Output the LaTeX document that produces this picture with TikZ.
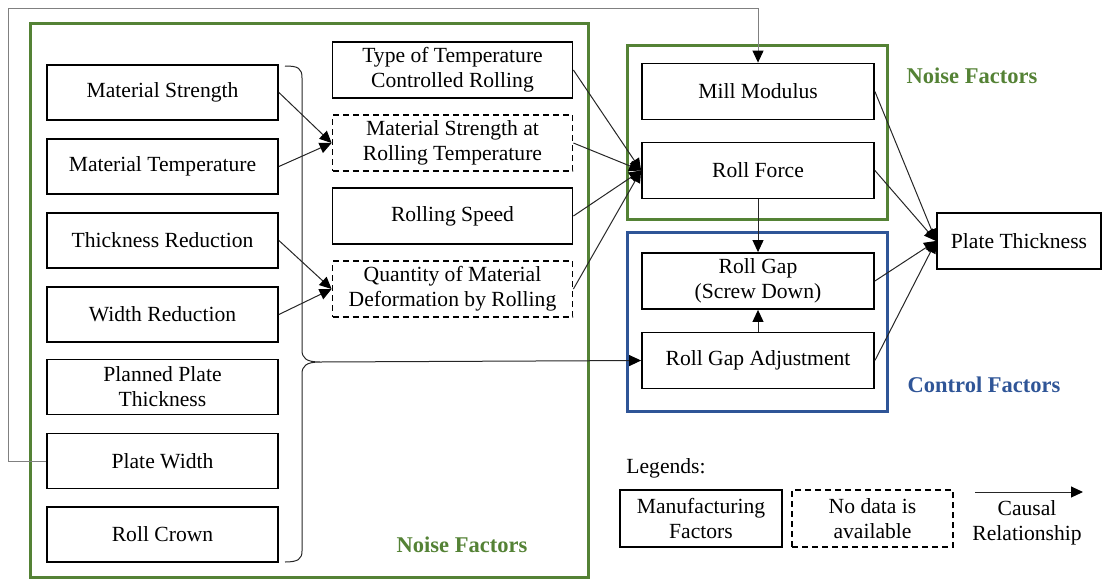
\documentclass[tikz,border=0pt]{standalone}
\usepackage{fontspec}
\setmainfont{Liberation Serif}
\usetikzlibrary{arrows.meta}
\definecolor{ngreen}{RGB}{84,130,53}
\definecolor{cblue}{RGB}{47,85,151}
\definecolor{wiregray}{RGB}{128,128,128}
\tikzset{
  fbox/.style={draw=black, line width=1.8pt, minimum height=55pt, align=center, inner sep=2pt,
    font=\fontsize{21.6}{25}\selectfont},
  lbox/.style={fbox, minimum width=231pt},
  mbox/.style={fbox, minimum width=240pt, minimum height=56pt},
  rbox/.style={fbox, minimum width=232pt, minimum height=56pt},
  nodata/.style={dash pattern=on 6pt off 4pt},
  cause/.style={draw=black!85, line width=1pt, -{Triangle[length=12pt,width=11pt,color=black]}},
  grp/.style={line width=3pt},
  grplabel/.style={font=\bfseries\fontsize{22.5}{26}\selectfont},
}
\begin{document}
\begin{tikzpicture}[x=1pt,y=-1pt]
\useasboundingbox (0,0) rectangle (1102,579);
% group frames
\draw[grp, ngreen] (30,23) rectangle (588,577);
\draw[grp, ngreen] (627,45) rectangle (887,219);
\draw[grp, cblue] (627,232) rectangle (887,411);
% left column
\node[lbox] (ms) at (162.5,92.5) {Material Strength};
\node[lbox] (mt) at (162.5,166.5) {Material Temperature};
\node[lbox] (tr) at (162.5,240.5) {Thickness Reduction};
\node[lbox] (wr) at (162.5,314.5) {Width Reduction};
\node[lbox] (ppt) at (162.5,387) {Planned Plate\\Thickness};
\node[lbox] (pw) at (162.5,461) {Plate Width};
\node[lbox] (rc) at (162.5,534.5) {Roll Crown};
% middle column
\node[mbox] (ttcr) at (452.5,70) {Type of Temperature\\Controlled Rolling};
\node[mbox, nodata] (msrt) at (452.5,143) {Material Strength at\\Rolling Temperature};
\node[mbox] (rs) at (452.5,216) {Rolling Speed};
\node[mbox, nodata] (qmd) at (452.5,289) {Quantity of Material\\Deformation by Rolling};
% right column
\node[rbox] (mm) at (758,91.5) {Mill Modulus};
\node[rbox] (rf) at (758,170.5) {Roll Force};
\node[rbox] (rg) at (758,281) {Roll Gap\\(Screw Down)};
\node[rbox] (rga) at (758,360.5) {Roll Gap Adjustment};
\node[fbox, minimum width=164pt, minimum height=56pt] (pt) at (1019,241) {Plate Thickness};
% group labels
\node[grplabel, text=ngreen] (nf1) at (972,76) {Noise Factors};
\node[grplabel, text=cblue] (cf) at (984,385) {Control Factors};
\node[grplabel, text=ngreen] (nf2) at (462,545) {Noise Factors};
% brace
\coordinate (bt) at (320,362);
\draw[black!85, line width=1pt] (285,66) .. controls (298,66) and (302,68) .. (302,78) -- (302,350)
  .. controls (302,358) and (306,362) .. (bt)
  .. controls (306,362) and (302,366) .. (302,374) -- (302,551)
  .. controls (302,559) and (298,562) .. (285,562);
% wire from plate width to mill modulus
\coordinate (w1) at (8,461);
\coordinate (w2) at (8,8);
\coordinate (w3) at (758,8);
\draw[cause, draw=wiregray] (pw.west) -- (w1) -- (w2) -- (w3) -- (mm.north);
% causal arrows
\draw[cause] (ms.east) -- (msrt.west);
\draw[cause] (mt.east) -- (msrt.west);
\draw[cause] (tr.east) -- (qmd.west);
\draw[cause] (wr.east) -- (qmd.west);
\draw[cause] (ttcr.east) -- (rf.west);
\draw[cause] (msrt.east) -- (rf.west);
\draw[cause] (rs.east) -- (rf.west);
\draw[cause] (qmd.east) -- (rf.west);
\draw[cause] (rf.south) -- (rg.north);
\draw[cause] (rga.north) -- (rg.south);
\draw[cause] (bt) -- (rga.west);
\draw[cause] (mm.east) -- (pt.west);
\draw[cause] (rf.east) -- (pt.west);
\draw[cause] (rg.east) -- (pt.west);
\draw[cause] (rga.east) -- (pt.west);
% legend
\node[font=\fontsize{21.6}{25}\selectfont] (leg) at (666,468) {Legends:};
\node[fbox, minimum width=162pt, minimum height=57pt] (lg1) at (701,518.5) {Manufacturing\\Factors};
\node[fbox, nodata, minimum width=161pt, minimum height=57pt] (lg2) at (872.5,518.5) {No data is\\available};
\coordinate (la) at (975,492);
\coordinate (lb) at (1083,492);
\draw[cause] (la) -- (lb);
\node[align=center, font=\fontsize{21.6}{25}\selectfont] (lg3) at (1027,523) {Causal\\Relationship};
\end{tikzpicture}
\end{document}
